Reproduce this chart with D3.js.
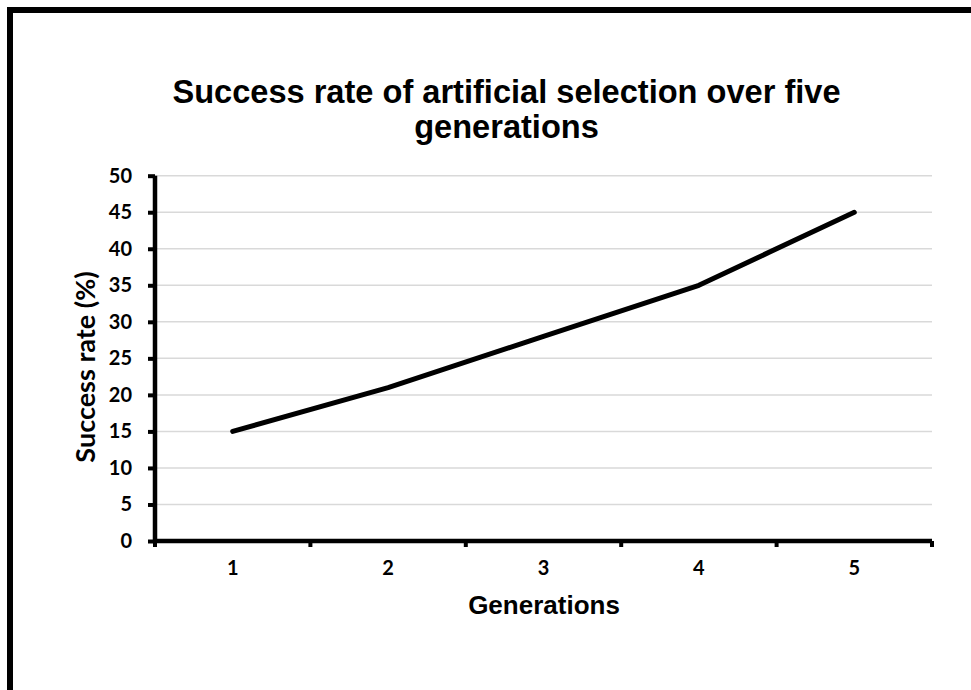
<!DOCTYPE html>
<html><head><meta charset="utf-8">
<script src="https://cdn.jsdelivr.net/npm/d3@7"></script>
<style>body{margin:0;background:#fff}svg{display:block}</style>
</head><body><svg id="c" width="971" height="690"></svg>
<script>
const categories = ["1","2","3","4","5"];
const values = [15, 21, 28, 35, 45];
const yTicks = [0,5,10,15,20,25,30,35,40,45,50];
const titleLines = ["Success rate of artificial selection over five","generations"];
const xTitle = "Generations";
const yTitle = "Success rate (%)";

const svg = d3.select("#c");
// frame
svg.append("path").attr("d","M10,690 V10 H971").attr("fill","none").attr("stroke","#000").attr("stroke-width",6);

const L=155, R=932, T=175.7, B=541;
const x = d3.scaleBand().domain(categories).range([L,R]);
const y = d3.scaleLinear().domain([0,50]).range([B,T]);

// gridlines
svg.append("g").selectAll("line").data(yTicks.filter(d=>d>0)).join("line")
  .attr("x1",L).attr("x2",R).attr("y1",d=>y(d)).attr("y2",d=>y(d))
  .attr("stroke","#d9d9d9").attr("stroke-width",1.5);

// y axis
const ya = svg.append("g").attr("transform",`translate(${L},0)`)
  .call(d3.axisLeft(y).tickValues(yTicks).tickSize(7).tickPadding(16).tickFormat(d3.format("d")));
ya.select(".domain").attr("stroke-width",4.5).attr("d",`M0,${B+2}V${T}`);
ya.selectAll(".tick line").attr("stroke-width",4);
ya.selectAll("text").attr("font-family","Lato, 'Open Sans', sans-serif").attr("font-weight","bold").attr("font-size",20).attr("fill","#000");

// x axis
const xa = svg.append("g").attr("transform",`translate(0,${B})`)
  .call(d3.axisBottom(x).tickSize(0));
xa.select(".domain").attr("stroke-width",4.5).attr("d",`M${L},0H${R}`);
const bounds = categories.map(c=>x(c)).concat([R]);
xa.selectAll(".btick").data(bounds).join("line").attr("class","btick")
  .attr("x1",d=>d).attr("x2",d=>d).attr("y1",0).attr("y2",6).attr("stroke","#000").attr("stroke-width",4);
xa.selectAll(".tick text").attr("y",34).attr("dy",0).attr("font-family","Lato, 'Open Sans', sans-serif").attr("font-weight","bold").attr("font-size",20).attr("fill","#000");

// line
const line = d3.line().x((d,i)=>x(categories[i])+x.bandwidth()/2).y(d=>y(d));
svg.append("path").datum(values).attr("d",line).attr("fill","none")
  .attr("stroke","#000").attr("stroke-width",5).attr("stroke-linecap","round").attr("stroke-linejoin","round");

// titles
const tt = svg.append("g").attr("font-family","'Liberation Sans', Arial, sans-serif")
  .attr("font-weight","bold").attr("font-size",32.6).attr("text-anchor","middle");
tt.selectAll("text").data(titleLines).join("text")
  .attr("x",506.5).attr("y",(d,i)=>103+i*35).text(d=>d);
svg.append("text").attr("x",544).attr("y",614).attr("text-anchor","middle")
  .attr("font-family","'Liberation Sans', Arial, sans-serif").attr("font-weight","bold").attr("font-size",26).text(xTitle);
svg.append("text").attr("transform","translate(95,367) rotate(-90)").attr("text-anchor","middle")
  .attr("font-family","Lato, 'Open Sans', sans-serif").attr("font-weight","bold").attr("font-size",27).text(yTitle);
</script></body></html>
